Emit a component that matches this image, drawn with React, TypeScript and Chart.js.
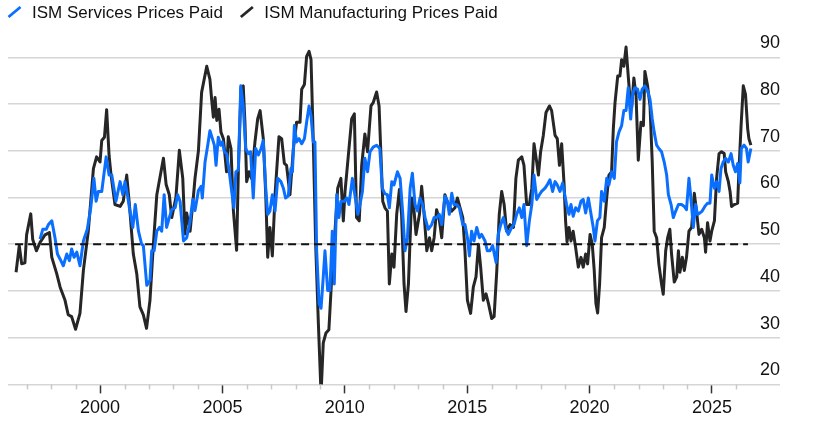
import { useEffect, useRef } from 'react';
import { Chart, registerables } from 'chart.js';

Chart.register(...registerables);

// ---- Data (decimal years / index values) ----
const seriesLabels = ['ISM Services Prices Paid', 'ISM Manufacturing Prices Paid'];

const mfgDates = [
  1996.57, 1996.7, 1996.8, 1996.93, 1997.0, 1997.17, 1997.25, 1997.4, 1997.55, 1997.75, 1997.93,
  1998.03, 1998.23, 1998.37, 1998.57, 1998.7, 1998.84, 1999.0, 1999.18, 1999.32, 1999.52, 1999.73,
  1999.86, 2000.0, 2000.07, 2000.18, 2000.27, 2000.37, 2000.45, 2000.61, 2000.82, 2000.95, 2001.09,
  2001.2, 2001.36, 2001.5, 2001.63, 2001.77, 2001.9, 2002.04, 2002.18, 2002.32, 2002.59, 2002.7,
  2002.83, 2002.93, 2003.1, 2003.24, 2003.38, 2003.47, 2003.54, 2003.68, 2003.81, 2003.88, 2004.02,
  2004.15, 2004.36, 2004.49, 2004.56, 2004.63, 2004.7, 2004.77, 2004.86, 2004.94, 2005.04, 2005.17,
  2005.24, 2005.35, 2005.45, 2005.58, 2005.65, 2005.76, 2005.85, 2005.92, 2005.99, 2006.09, 2006.19,
  2006.33, 2006.44, 2006.54, 2006.67, 2006.77, 2006.85, 2006.94, 2007.04, 2007.15, 2007.31, 2007.42,
  2007.53, 2007.62, 2007.76, 2007.9, 2008.03, 2008.17, 2008.24, 2008.35, 2008.44, 2008.54, 2008.62,
  2008.71, 2008.81, 2008.92, 2009.03, 2009.12, 2009.23, 2009.35, 2009.46, 2009.6, 2009.71, 2009.84,
  2009.94, 2010.01, 2010.12, 2010.28, 2010.39, 2010.48, 2010.59, 2010.69, 2010.82, 2010.93, 2011.07,
  2011.16, 2011.3, 2011.4, 2011.47, 2011.55, 2011.64, 2011.74, 2011.82, 2011.92, 2012.01, 2012.12,
  2012.23, 2012.32, 2012.42, 2012.5, 2012.6, 2012.73, 2012.83, 2012.91, 2013.05, 2013.14, 2013.24,
  2013.35, 2013.46, 2013.55, 2013.65, 2013.75, 2013.86, 2013.96, 2014.09, 2014.23, 2014.37, 2014.5,
  2014.6, 2014.71, 2014.82, 2014.91, 2015.01, 2015.14, 2015.25, 2015.36, 2015.46, 2015.55, 2015.66,
  2015.77, 2015.87, 2016.0, 2016.1, 2016.21, 2016.31, 2016.41, 2016.51, 2016.61, 2016.75, 2016.89,
  2016.99, 2017.09, 2017.23, 2017.32, 2017.43, 2017.54, 2017.64, 2017.73, 2017.84, 2017.91, 2018.0,
  2018.11, 2018.22, 2018.36, 2018.45, 2018.59, 2018.68, 2018.77, 2018.86, 2018.96, 2019.02, 2019.08,
  2019.16, 2019.24, 2019.33, 2019.43, 2019.54, 2019.65, 2019.74, 2019.84, 2019.92, 2020.02, 2020.11,
  2020.19, 2020.26, 2020.33, 2020.41, 2020.49, 2020.6, 2020.7, 2020.79, 2020.9, 2020.97, 2021.04,
  2021.15, 2021.24, 2021.31, 2021.4, 2021.49, 2021.58, 2021.65, 2021.72, 2021.81, 2021.9, 2021.99,
  2022.1, 2022.2, 2022.26, 2022.37, 2022.47, 2022.56, 2022.64, 2022.74, 2022.83, 2022.94, 2023.01,
  2023.11, 2023.19, 2023.28, 2023.35, 2023.46, 2023.56, 2023.63, 2023.69, 2023.79, 2023.87, 2023.96,
  2024.06, 2024.17, 2024.28, 2024.37, 2024.47, 2024.58, 2024.69, 2024.74, 2024.82, 2024.92, 2024.99,
  2025.1, 2025.19, 2025.29, 2025.39, 2025.5, 2025.56, 2025.67, 2025.74, 2025.8, 2025.91, 2026.05,
  2026.1, 2026.19, 2026.28, 2026.37, 2026.46, 2026.51, 2026.59,
];
const mfgValues = [
  44, 49.7, 45.8, 46, 52, 56.5, 51, 48.6, 50.4, 52, 52.5,
  47.2, 43.7, 40.8, 38, 34.9, 34.5, 31.8, 35.2, 44.4, 52.8, 66.2,
  68.7, 67.6, 72.2, 72.9, 78.8, 69, 64.8, 58.5, 58.1, 59.2, 64.8,
  58.5, 47.9, 43.7, 36.6, 34.9, 32, 38, 50, 60.6, 68.4, 62.8,
  60.6, 55.7, 60, 70.1, 64.1, 52.2, 56.7, 52.8, 59.9, 64.1, 70,
  82.5, 88.1, 85.3, 81, 77.2, 81.4, 76.5, 78.9, 74, 72.6, 65.5,
  73, 70.5, 57.1, 48.7, 65.5, 83.5, 83.9, 76.1, 63.4, 65.5, 64.1,
  71.9, 76.8, 78.6, 72.6, 60.6, 47.2, 53.6, 47.5, 60.6, 73, 72.6,
  67.3, 66.9, 60.6, 70.5, 76.1, 76.1, 83.2, 84.2, 90.2, 91.3, 89.5,
  72.6, 50, 33.1, 17.9, 28.9, 31, 31.7, 42.3, 52.8, 62, 64.1,
  55, 61.3, 67.6, 76.8, 77.9, 55.7, 55, 66.9, 73.6, 69.8, 79.6,
  80.3, 82.6, 79.6, 70, 59.2, 57.8, 57.1, 41.5, 47.9, 45.1, 56.4,
  61.7, 56.4, 41.5, 35.6, 41.5, 59.9, 57.1, 52.1, 56.4, 62.4, 56.4,
  48.6, 51.4, 48.6, 51.4, 57.4, 55.3, 51.4, 60.6, 58.5, 57.1, 57.8,
  59.9, 57.8, 55.7, 48.6, 38, 35.2, 40.8, 43, 50, 45.1, 38,
  39.4, 37.3, 34.1, 34.5, 44.4, 56.4, 61.3, 58.5, 52.8, 54.2, 53.6,
  64.1, 68, 68.7, 66.9, 58.5, 58.5, 62, 71.5, 67.6, 64.8, 69.8,
  73.3, 78.2, 79.6, 78.6, 73.3, 72.6, 66.9, 71.5, 62.7, 55, 50.5,
  53.6, 50.7, 52.8, 49.3, 45.1, 47.2, 45.1, 47.9, 45.8, 52.1, 50,
  44.4, 37.3, 35.3, 41.5, 51.4, 53.6, 59.9, 64.8, 65.5, 74.7, 80.3,
  86, 86, 89.5, 88.1, 92.2, 86, 81.4, 79.3, 85.6, 81.7, 68,
  76.1, 75.4, 87, 83.9, 79.6, 67.6, 52.8, 51.4, 45.8, 41.5, 39.3,
  48.6, 51.4, 53.2, 47.9, 41.9, 43, 48.6, 44, 47.2, 44.4, 47.2,
  52.8, 53.6, 60.9, 57.1, 52.1, 53.2, 51.4, 48.3, 54.6, 50.7, 52.8,
  55, 64.1, 69.4, 69.8, 69.4, 65.5, 63.4, 61.3, 58.1, 58.5, 58.8,
  65.5, 75.4, 83.9, 82.1, 74.7, 72.6, 71.2,
];

const svcDates = [
  1997.55, 1997.66, 1997.8, 1997.89, 1998.03, 1998.16, 1998.26, 1998.37, 1998.5, 1998.64, 1998.75,
  1998.84, 1998.94, 1999.05, 1999.18, 1999.32, 1999.48, 1999.62, 1999.75, 1999.84, 1999.93, 2000.07,
  2000.25, 2000.37, 2000.48, 2000.65, 2000.82, 2000.93, 2001.02, 2001.12, 2001.2, 2001.34, 2001.44,
  2001.57, 2001.7, 2001.77, 2001.91, 2002.04, 2002.11, 2002.21, 2002.32, 2002.43, 2002.52, 2002.62,
  2002.72, 2002.83, 2002.93, 2003.07, 2003.17, 2003.27, 2003.41, 2003.54, 2003.68, 2003.79, 2003.88,
  2004.02, 2004.13, 2004.18, 2004.29, 2004.4, 2004.49, 2004.59, 2004.67, 2004.74, 2004.83, 2004.93,
  2005.0, 2005.08, 2005.17, 2005.28, 2005.38, 2005.47, 2005.55, 2005.65, 2005.75, 2005.85, 2005.95,
  2006.06, 2006.15, 2006.26, 2006.36, 2006.47, 2006.58, 2006.67, 2006.77, 2006.85, 2006.94, 2007.04,
  2007.15, 2007.26, 2007.39, 2007.49, 2007.58, 2007.69, 2007.8, 2007.86, 2007.94, 2008.03, 2008.13,
  2008.24, 2008.35, 2008.44, 2008.54, 2008.62, 2008.71, 2008.78, 2008.85, 2008.95, 2009.03, 2009.12,
  2009.19, 2009.3, 2009.39, 2009.49, 2009.57, 2009.67, 2009.76, 2009.84, 2009.98, 2010.08, 2010.17,
  2010.31, 2010.39, 2010.53, 2010.62, 2010.72, 2010.82, 2010.93, 2011.03, 2011.16, 2011.3, 2011.43,
  2011.53, 2011.64, 2011.74, 2011.82, 2011.92, 2012.01, 2012.15, 2012.26, 2012.37, 2012.46, 2012.56,
  2012.67, 2012.76, 2012.87, 2012.97, 2013.07, 2013.18, 2013.28, 2013.41, 2013.55, 2013.65, 2013.75,
  2013.86, 2013.96, 2014.09, 2014.19, 2014.27, 2014.37, 2014.46, 2014.57, 2014.68, 2014.82, 2014.91,
  2015.01, 2015.09, 2015.18, 2015.28, 2015.39, 2015.5, 2015.59, 2015.73, 2015.82, 2015.93, 2016.04,
  2016.18, 2016.27, 2016.37, 2016.48, 2016.59, 2016.68, 2016.82, 2016.91, 2017.02, 2017.13, 2017.23,
  2017.32, 2017.43, 2017.54, 2017.64, 2017.73, 2017.84, 2017.95, 2018.04, 2018.18, 2018.27, 2018.38,
  2018.49, 2018.59, 2018.68, 2018.79, 2018.9, 2018.99, 2019.06, 2019.16, 2019.24, 2019.33, 2019.43,
  2019.54, 2019.65, 2019.74, 2019.84, 2019.95, 2020.06, 2020.15, 2020.22, 2020.32, 2020.42, 2020.49,
  2020.6, 2020.7, 2020.79, 2020.9, 2021.01, 2021.1, 2021.2, 2021.31, 2021.4, 2021.49, 2021.58,
  2021.68, 2021.76, 2021.85, 2021.96, 2022.06, 2022.15, 2022.26, 2022.37, 2022.47, 2022.56, 2022.64,
  2022.74, 2022.83, 2022.94, 2023.05, 2023.15, 2023.22, 2023.33, 2023.42, 2023.52, 2023.63, 2023.76,
  2023.87, 2023.96, 2024.06, 2024.14, 2024.24, 2024.33, 2024.41, 2024.51, 2024.6, 2024.71, 2024.82,
  2024.92, 2024.99, 2025.1, 2025.19, 2025.29, 2025.37, 2025.46, 2025.56, 2025.67, 2025.78, 2025.87,
  2025.96, 2026.05, 2026.14, 2026.2, 2026.31, 2026.41, 2026.48, 2026.59,
];
const svcValues = [
  51.1, 53.2, 53.2, 54.2, 55, 51.4, 47.9, 46.8, 45.4, 47.9, 46.5,
  49, 47.2, 48.3, 45.4, 50.7, 53.2, 57.8, 64.1, 59.2, 61.3, 61.3,
  68.7, 64.8, 64.8, 59.2, 63.4, 60.6, 63.4, 60.6, 57.8, 53.6, 58.5,
  52.8, 50, 49.7, 41.2, 42.3, 48.6, 48.6, 52.8, 53.6, 52.8, 60.6,
  53.6, 55.7, 57.4, 57.8, 60.6, 59.2, 50.7, 51.4, 55, 59.6, 57.2,
  61.5, 62.4, 59.9, 67.6, 71.2, 74.3, 72.6, 71.2, 66.9, 72.9, 71.2,
  71.9, 69.8, 69.4, 65.5, 61.3, 57.8, 65.5, 65.9, 83.9, 79.6, 70.5,
  69.4, 69.8, 59.9, 70.5, 69.1, 70.5, 72.2, 62, 56.4, 57.1, 60.6,
  57.1, 64.1, 63.4, 62, 59.9, 60.3, 66.2, 65.5, 75.4, 71.9, 72.6,
  71.5, 72.6, 76.1, 79.6, 77.5, 71.9, 71.9, 48.6, 37.3, 36.3, 43,
  48.6, 40.1, 40.1, 52.8, 41.5, 60.6, 55.7, 59.2, 59.2, 59.9, 58.5,
  64.1, 61.3, 56.4, 58.5, 61.3, 68.4, 65.5, 69.8, 70.8, 71.2, 70.5,
  62, 60.8, 60.6, 57.8, 63.4, 62.7, 65.5, 64.1, 56.4, 48.6, 51.4,
  62, 65.2, 58.5, 57.1, 59.9, 58.5, 55.7, 53.2, 54.2, 55.7, 55.7,
  56.4, 54.2, 60.3, 59.2, 56.4, 60.9, 58.5, 58.5, 57.8, 54.2, 54.2,
  51.4, 47.5, 52.8, 50.7, 53.6, 51.4, 52.1, 50.7, 48.6, 48.6, 49.7,
  46.1, 52.1, 54.2, 55.7, 53.2, 52.1, 53.6, 54.2, 56.4, 57.8, 55.7,
  58.5, 49.7, 55, 58.5, 64.8, 59.6, 60.6, 61.3, 62, 62.7, 63.8,
  61.3, 63.4, 62.7, 61.3, 63.1, 60.5, 58.5, 56.4, 58.5, 56, 57.8,
  57.1, 59.2, 59.6, 56.7, 59.9, 56.4, 53.6, 50.7, 55, 55.7, 61.3,
  59.2, 64.1, 62.7, 65.5, 64.1, 71.9, 74, 75.4, 78.6, 78.6, 83.5,
  76.8, 82.1, 83.5, 83.2, 81, 83.2, 83.9, 82.8, 81, 76.8, 74,
  71.2, 70.5, 69.8, 67.6, 64.8, 60.6, 58.5, 55.7, 57.1, 58.5, 58.5,
  58.1, 57.4, 64.1, 59.9, 53.6, 58.5, 56.4, 56.7, 57.1, 58.1, 58.8,
  58.8, 64.8, 62, 63.4, 61.3, 66.2, 67.6, 68.4, 67.6, 69.4, 66.9,
  65.5, 67.3, 63.1, 70.5, 71.2, 70.5, 67.6, 70.5,
];

const refLevel = 50;
const refSpan = [1996.53, 2026.47];

const yTickValues = [20, 30, 40, 50, 60, 70, 80, 90];
const xMajorYears = [2000, 2005, 2010, 2015, 2020, 2025];
const xMinorYears = [
  1997, 1998, 1999, 2000, 2001, 2002, 2003, 2004, 2005, 2006, 2007, 2008, 2009, 2010, 2011,
  2012, 2013, 2014, 2015, 2016, 2017, 2018, 2019, 2020, 2021, 2022, 2023, 2024, 2025, 2026,
];

const BLUE = '#0a6fff';
const DARK = '#262626';
const FONT = '"Liberation Sans", Arial, Helvetica, sans-serif';

const minorTicksPlugin = {
  id: 'minorTicks',
  afterDraw(chart: any) {
    const xs = chart.scales.x;
    const { ctx, chartArea } = chart;
    ctx.save();
    ctx.strokeStyle = '#c9c9c9';
    ctx.lineWidth = 1.5;
    xMinorYears.forEach((yr) => {
      if (xMajorYears.includes(yr)) return;
      const px = Math.round(xs.getPixelForValue(yr)) + 0.5;
      ctx.beginPath();
      ctx.moveTo(px, chartArea.bottom);
      ctx.lineTo(px, chartArea.bottom + 5);
      ctx.stroke();
    });
    ctx.restore();
  },
};

const slashLegendPlugin = {
  id: 'slashLegend',
  afterDraw(chart: any) {
    const { ctx } = chart;
    ctx.save();
    ctx.font = `17px ${FONT}`;
    ctx.textBaseline = 'alphabetic';
    ctx.textAlign = 'left';
    let x = 8.5;
    const baseY = 17.5;
    chart.data.datasets.forEach((ds: any) => {
      if (!seriesLabels.includes(ds.label)) return;
      ctx.strokeStyle = ds.borderColor;
      ctx.lineWidth = 2.8;
      ctx.lineCap = 'butt';
      ctx.beginPath();
      ctx.moveTo(x, 17);
      ctx.lineTo(x + 12, 7);
      ctx.stroke();
      ctx.fillStyle = '#111';
      const tx = x + 23.5;
      ctx.fillText(ds.label, tx, baseY);
      x = tx + ctx.measureText(ds.label).width + 18;
    });
    ctx.restore();
  },
};

export default function App() {
  const canvasRef = useRef<HTMLCanvasElement | null>(null);

  useEffect(() => {
    document.body.style.margin = '0';
    const canvas = canvasRef.current;
    if (!canvas) return;

    const svcData = svcDates.map((x, i) => ({ x, y: svcValues[i] }));
    const mfgData = mfgDates.map((x, i) => ({ x, y: mfgValues[i] }));
    const refData = refSpan.map((x) => ({ x, y: refLevel }));

    const chart = new Chart(canvas, {
      type: 'line',
      data: {
        datasets: [
          {
            label: seriesLabels[0],
            data: svcData,
            borderColor: BLUE,
            backgroundColor: BLUE,
            borderWidth: 3,
            borderJoinStyle: 'round',
            pointRadius: 0,
            tension: 0,
            order: 1,
          },
          {
            label: seriesLabels[1],
            data: mfgData,
            borderColor: DARK,
            backgroundColor: DARK,
            borderWidth: 3,
            borderJoinStyle: 'round',
            pointRadius: 0,
            tension: 0,
            order: 2,
          },
          {
            label: 'threshold',
            data: refData,
            borderColor: '#111',
            borderWidth: 2.2,
            borderDash: [8, 5],
            pointRadius: 0,
            order: 0,
          },
        ],
      },
      options: {
        animation: false,
        responsive: true,
        maintainAspectRatio: false,
        layout: { padding: { top: 34, left: 8, right: 37, bottom: 4 } },
        plugins: {
          legend: { display: false },
          tooltip: { enabled: false },
        },
        scales: {
          x: {
            type: 'linear',
            min: 1996.24,
            max: 2027.78,
            border: { display: false },
            grid: {
              drawOnChartArea: false,
              drawTicks: true,
              tickLength: 9,
              tickWidth: 1.5,
              tickColor: (c: any) =>
                c.tick && xMajorYears.includes(c.tick.value) ? '#333' : 'rgba(0,0,0,0)',
            },
            ticks: {
              stepSize: 1,
              autoSkip: false,
              maxRotation: 0,
              padding: 4,
              color: '#111',
              font: { family: FONT, size: 18 },
              callback: (v: any) => (xMajorYears.includes(Number(v)) ? String(v) : ''),
            },
          },
          y: {
            type: 'linear',
            position: 'right',
            min: 20,
            max: 95,
            afterBuildTicks: (s: any) => {
              s.ticks = yTickValues.map((value) => ({ value }));
            },
            border: { display: false },
            grid: {
              color: '#d6d6d6',
              lineWidth: 1.5,
              drawTicks: false,
            },
            ticks: {
              mirror: true,
              padding: 0,
              labelOffset: -14,
              crossAlign: 'near',
              color: '#111',
              font: { family: FONT, size: 18 },
            },
          },
        },
      },
      plugins: [minorTicksPlugin, slashLegendPlugin],
    } as any);

    return () => chart.destroy();
  }, []);

  return (
    <div style={{ position: 'relative', width: '817px', height: '427px' }}>
      <canvas ref={canvasRef} />
    </div>
  );
}
